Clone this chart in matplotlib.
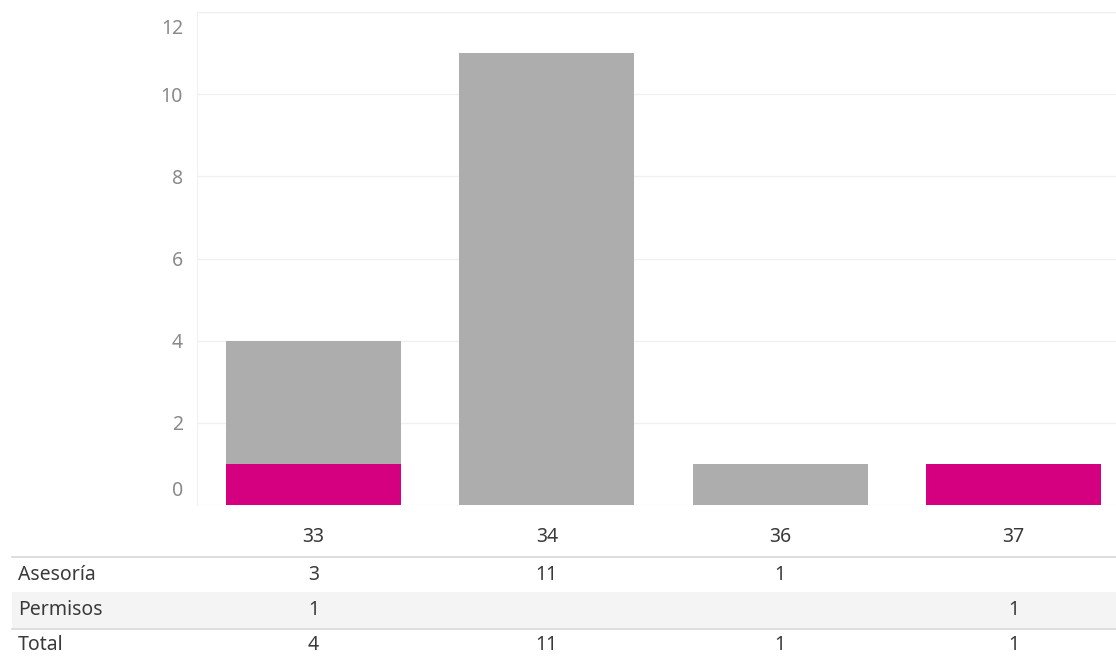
import numpy as np
import matplotlib
matplotlib.use('Agg')
import matplotlib.pyplot as plt
from matplotlib.transforms import ScaledTranslation, blended_transform_factory
from matplotlib.patches import Rectangle
from matplotlib.lines import Line2D

# datos
categorias = ['33', '34', '36', '37']
asesoria = [3, 11, 1, 0]
permisos = [1, 0, 0, 1]
filas = ['Asesoría', 'Permisos', 'Total']
yticks = [0, 2, 4, 6, 8, 10, 12]

color_gris = '#adadad'
color_rosa = '#d5007f'
color_texto = '#3a3a3a'
color_eje = '#8a8a8a'

plt.rcParams['font.family'] = ['Noto Sans', 'DejaVu Sans']

W, H = 1116, 660
fig = plt.figure(figsize=(W / 100, H / 100), dpi=100)
ax = fig.add_axes([197 / W, 1 - 505 / H, (W - 197) / W, (505 - 12) / H])

x = np.arange(len(categorias))
perm = np.array(permisos)
ases = np.array(asesoria)
ax.bar(x, perm, width=0.75, color=color_rosa, zorder=3)
ax.bar(x, ases, width=0.75, bottom=perm, color=color_gris, zorder=3)

ax.set_xlim(-0.5, 3.44)
ax.set_ylim(0, 12)
ax.set_yticks(yticks)
ax.set_yticklabels([str(v) for v in yticks])
ax.tick_params(axis='y', length=0, pad=10, labelsize=14, labelcolor=color_eje)
ax.set_xticks([])
ax.grid(axis='y', color='#f0f0f0', linewidth=1, zorder=0)
for s in ['right', 'bottom']:
    ax.spines[s].set_visible(False)
ax.spines['left'].set_color('#f0f0f0')
ax.spines['top'].set_color('#f0f0f0')

# desplazar etiquetas extremas como en Tableau
labels = ax.get_yticklabels()
labels[0].set_transform(labels[0].get_transform() + ScaledTranslation(0, 16 / 100, fig.dpi_scale_trans))
labels[-1].set_transform(labels[-1].get_transform() + ScaledTranslation(0, -14 / 100, fig.dpi_scale_trans))

# tabla inferior
fig.patches.append(Rectangle((12 / W, 1 - 628 / H), 1, 36 / H, transform=fig.transFigure,
                             facecolor='#f4f4f4', edgecolor='none', zorder=0))
for yl in [557, 629]:
    fig.lines.append(Line2D([12 / W, 1], [1 - yl / H, 1 - yl / H], transform=fig.transFigure,
                            color='#d8d8d8', linewidth=1.2))

fs = 14
trans = blended_transform_factory(ax.transData, fig.transFigure)
for i, c in enumerate(categorias):
    fig.text(x[i], 1 - 537 / H, c, transform=trans, ha='center', va='center',
             fontsize=fs, color=color_texto)

totales = ases + perm
valores = [ases, perm, totales]
ys = [575, 610, 645]
for fila, vals, yy in zip(filas, valores, ys):
    fig.text(18 / W, 1 - yy / H, fila, ha='left', va='center', fontsize=fs, color=color_texto)
    for i, v in enumerate(vals):
        if v:
            fig.text(x[i], 1 - yy / H, str(v), transform=trans, ha='center', va='center',
                     fontsize=fs, color=color_texto)

fig.savefig('out.png', dpi=100)
